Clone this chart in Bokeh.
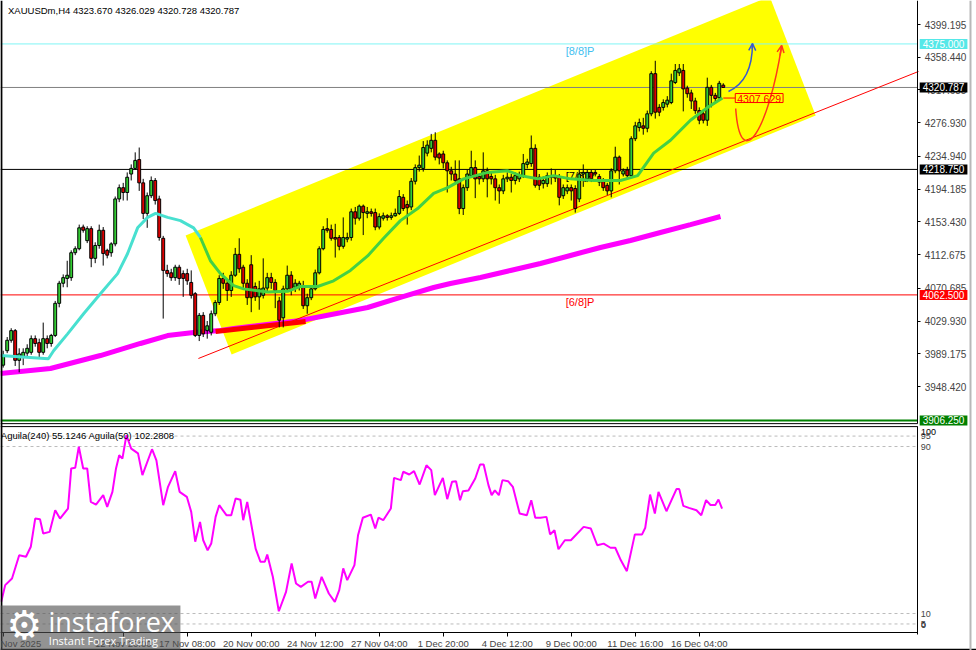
from bokeh.plotting import figure
from bokeh.models import (Range1d, FixedTicker, PrintfTickFormatter, Label, LinearAxis,
                          Arrow, OpenHead, ColumnDataSource)
from bokeh.embed import file_html
from bokeh.resources import INLINE
from bokeh.core.properties import value

FONT = "Liberation Sans"

# ---------------- data (XAUUSDm, H4) ----------------
opens = [3975, 3993, 4006, 4018, 3981, 3985, 3990, 3991, 4008, 4003,
         3991, 4008, 4002, 4012, 4052, 4077, 4083, 4084, 4115, 4120,
         4147, 4130, 4145, 4108, 4124, 4143, 4118, 4115, 4126, 4182,
         4196, 4190, 4213, 4220, 4231, 4202, 4164, 4186, 4205, 4182,
         4133, 4093, 4090, 4084, 4097, 4089, 4089, 4078, 4064, 4012,
         4037, 4018, 4016, 4039, 4053, 4083, 4077, 4068, 4087, 4113,
         4097, 4077, 4100, 4073, 4060, 4062, 4071, 4084, 4078, 4055,
         4034, 4070, 4087, 4072, 4072, 4074, 4049, 4059, 4070, 4090,
         4120, 4145, 4144, 4134, 4134, 4123, 4132, 4134, 4166, 4158,
         4173, 4164, 4166, 4165, 4147, 4158, 4161, 4159, 4161, 4164,
         4184, 4175, 4172, 4204, 4221, 4220, 4239, 4245, 4255, 4238,
         4238, 4227, 4217, 4213, 4207, 4170, 4196, 4211, 4221, 4210,
         4207, 4217, 4210, 4207, 4196, 4192, 4207, 4209, 4205, 4207,
         4211, 4225, 4226, 4245, 4209, 4201, 4201, 4209, 4211, 4209,
         4186, 4192, 4196, 4195, 4182, 4213, 4207, 4215, 4215, 4210,
         4205, 4199, 4192, 4217, 4234, 4213, 4218, 4211, 4257, 4271,
         4273, 4270, 4288, 4338, 4296, 4296, 4300, 4302, 4327, 4339,
         4342, 4320, 4314, 4304, 4292, 4288, 4280, 4321, 4311, 4308,
         4323.670]
highs = [3993, 4010, 4021, 4020, 3996, 3996, 4001, 4012, 4012, 4008,
         4028, 4012, 4014, 4055, 4080, 4088, 4105, 4118, 4123, 4150,
         4150, 4148, 4148, 4128, 4150, 4147, 4120, 4128, 4185, 4200,
         4202, 4215, 4225, 4240, 4246, 4207, 4190, 4210, 4208, 4186,
         4136, 4100, 4095, 4100, 4100, 4093, 4095, 4093, 4066, 4040,
         4041, 4030, 4043, 4056, 4087, 4090, 4080, 4092, 4121, 4133,
         4100, 4082, 4112, 4078, 4080, 4108, 4090, 4090, 4082, 4060,
         4074, 4099, 4092, 4082, 4080, 4080, 4064, 4073, 4094, 4123,
         4148, 4158, 4150, 4151, 4137, 4159, 4140, 4170, 4172, 4175,
         4175, 4172, 4170, 4170, 4164, 4165, 4163, 4165, 4170, 4193,
         4188, 4180, 4208, 4225, 4236, 4254, 4255, 4263, 4265, 4240,
         4242, 4230, 4222, 4230, 4230, 4200, 4218, 4242, 4230, 4213,
         4240, 4221, 4215, 4212, 4200, 4212, 4215, 4213, 4215, 4216,
         4238, 4232, 4261, 4250, 4213, 4210, 4215, 4220, 4218, 4213,
         4200, 4200, 4200, 4199, 4218, 4225, 4218, 4218, 4218, 4213,
         4208, 4202, 4220, 4247, 4236, 4220, 4222, 4260, 4278, 4282,
         4283, 4292, 4341, 4354, 4300, 4306, 4310, 4338, 4350, 4350,
         4350, 4323, 4318, 4308, 4296, 4293, 4333, 4324, 4314, 4329,
         4326.029]
lows = [3972, 3990, 4003, 3974, 3966, 3975, 3986, 3988, 3998, 3983,
        3988, 3996, 3998, 4010, 4047, 4072, 4072, 4080, 4112, 4118,
        4140, 4127, 4097, 4102, 4120, 4099, 4108, 4110, 4123, 4178,
        4180, 4180, 4205, 4218, 4192, 4157, 4146, 4183, 4175, 4130,
        4033, 4085, 4080, 4080, 4075, 4060, 4075, 4058, 4010, 4005,
        4010, 4008, 4012, 4036, 4050, 4070, 4055, 4060, 4085, 4090,
        4070, 4050, 4041, 4055, 4044, 4058, 4065, 4070, 4046, 4022,
        4022, 4066, 4062, 4066, 4068, 4045, 4039, 4056, 4068, 4088,
        4118, 4140, 4130, 4109, 4118, 4120, 4128, 4130, 4150, 4155,
        4137, 4158, 4160, 4143, 4144, 4155, 4155, 4156, 4160, 4162,
        4167, 4150, 4168, 4200, 4216, 4216, 4235, 4240, 4230, 4225,
        4220, 4190, 4205, 4200, 4163, 4162, 4192, 4208, 4183, 4200,
        4203, 4184, 4200, 4180, 4176, 4188, 4203, 4190, 4200, 4203,
        4208, 4220, 4222, 4196, 4193, 4195, 4197, 4200, 4203, 4174,
        4182, 4188, 4180, 4165, 4178, 4197, 4203, 4203, 4210, 4198,
        4192, 4187, 4184, 4214, 4200, 4210, 4206, 4208, 4254, 4266,
        4262, 4265, 4285, 4282, 4285, 4292, 4296, 4300, 4325, 4335,
        4291, 4308, 4294, 4288, 4275, 4276, 4273, 4296, 4303, 4304,
        4320.728]
closes = [3987, 4006, 4018, 3981, 3989, 3991, 3996, 4008, 4002, 3991,
          4008, 4002, 4012, 4052, 4077, 4084, 4087, 4115, 4120, 4146,
          4143, 4145, 4108, 4124, 4143, 4114, 4112, 4126, 4182, 4196,
          4190, 4209, 4220, 4230, 4202, 4164, 4186, 4205, 4180, 4134,
          4093, 4089, 4084, 4097, 4083, 4083, 4080, 4062, 4012, 4037,
          4014, 4024, 4039, 4053, 4083, 4077, 4068, 4087, 4113, 4095,
          4077, 4059, 4059, 4060, 4070, 4071, 4084, 4078, 4068, 4031,
          4070, 4087, 4068, 4077, 4077, 4049, 4059, 4070, 4090, 4120,
          4144, 4143, 4133, 4132, 4123, 4134, 4134, 4166, 4158, 4173,
          4165, 4166, 4164, 4147, 4160, 4161, 4159, 4161, 4164, 4185,
          4170, 4171, 4204, 4221, 4224, 4246, 4249, 4255, 4234, 4233,
          4227, 4217, 4213, 4205, 4170, 4196, 4213, 4221, 4207, 4207,
          4217, 4207, 4207, 4196, 4192, 4207, 4209, 4205, 4211, 4211,
          4226, 4228, 4245, 4199, 4199, 4205, 4211, 4211, 4208, 4184,
          4196, 4196, 4192, 4170, 4213, 4215, 4215, 4207, 4213, 4203,
          4196, 4192, 4217, 4234, 4217, 4217, 4211, 4257, 4273, 4277,
          4270, 4288, 4338, 4290, 4290, 4302, 4305, 4329, 4342, 4344,
          4319, 4313, 4304, 4292, 4280, 4280, 4321, 4311, 4307, 4326,
          4320.787]
bar_idx = list(range(len(opens)))

# slow moving average (magenta): bar index / price
ma_slow_idx = [-0.7, 11.8, 24.3, 34.3, 41.1, 47.6, 54.3, 57.6, 74.3, 91.1, 99.3,
               107.6, 111.8, 119.3, 126.8, 134.3, 141.8, 149.3, 156.8, 164.3,
               171.8, 179.3]
ma_slow_val = [3964.6, 3970.8, 3987.0, 4002.0, 4011.9, 4015.7, 4018.2, 4020.7,
               4030.6, 4046.8, 4059.3, 4071.7, 4076.7, 4084.2, 4092.9, 4101.6,
               4111.6, 4121.5, 4130.2, 4140.2, 4150.1, 4160.1]

# fast moving average (cyan -> green)
ma_fast_idx = [-0.7, 11.3, 12.6, 16.1, 20.1, 24.3, 28.6, 31.1, 33.6, 36.1, 38.1,
               41.1, 44.3, 47.6, 49.3, 51.8, 54.3, 57.6, 60.1, 66.1, 71.1, 74.3,
               78.6, 82.6, 86.8, 91.1, 95.1, 99.3, 103.6, 107.6, 111.1, 115.1,
               121.1, 126.1, 129.3, 133.6, 137.6, 141.8, 147.6, 154.3, 158.6,
               162.6, 166.8, 171.8, 176.1, 179.8]
ma_fast_val = [3987, 3983, 3993, 4014, 4039, 4064, 4089, 4114, 4146, 4159, 4164,
               4159, 4155, 4146, 4134, 4105, 4089, 4074, 4070, 4066, 4067, 4073,
               4073, 4080, 4093, 4111, 4133, 4155, 4170, 4189, 4196, 4207,
               4215, 4217, 4211, 4207, 4211, 4207, 4205, 4205, 4211,
               4239, 4255, 4280, 4296, 4307.629]
FAST_SPLIT = 49.3

# oscillator "Aguila" (lower panel)
ind_idx = [-0.5, 0.5, 2.2, 4, 5.7, 6.9, 8, 9.2, 10, 11.6,
           13, 14.2, 16.2, 17, 18, 18.9, 20, 21, 21.9, 23.2,
           25, 26, 27.3, 28.2, 29, 29.8, 30.8, 32, 33.7, 34.8,
           37.2, 38.3, 40, 41.2, 43, 44.1, 45.9, 47, 48, 49.2,
           50, 51.1, 52, 53.1, 54, 55.8, 57, 58.1, 59.3, 60,
           61, 63.1, 64.3, 65.4, 66, 67.4, 68.9, 70.7, 72.1, 73.2,
           74.4, 76.2, 77.1, 78, 79.6, 81.4, 82.9, 84, 85, 86,
           87.8, 88.7, 89.9, 91.9, 93, 93.8, 95, 96.9, 97.7, 99.4,
           100, 101.5, 102.7, 104.1, 105.8, 107, 107.9, 109.9, 111, 112.2,
           113.2, 114.2, 114.9, 116.3, 118, 119.2, 120.1, 121.3, 122.1, 122.9,
           123.9, 124.8, 126.2, 127.4, 129.1, 130.9, 132, 133, 134.3, 135.8,
           136.7, 137.8, 138.8, 140.4, 141.9, 145.1, 146.9, 148.5, 150.1, 151.8,
           153, 154.4, 155.9, 157.9, 159.7, 160.5, 161.7, 162.9, 163.8, 165.8,
           168.3, 169, 170, 171.4, 173.3, 174.5, 175.7, 176.8, 178, 178.8,
           179.7]
ind_val = [15.6, 23.6, 26.8, 37.9, 37.2, 42, 55.5, 55.2, 48.3, 49.1,
           59.5, 55.5, 60.3, 79.5, 79.8, 89.9, 79.5, 79.5, 63.5, 62.2,
           66.7, 61.1, 68.3, 79.5, 85.8, 84.2, 95.4, 89, 86.7, 76.3,
           88.7, 83.4, 61.9, 70.7, 78.2, 68.3, 65.9, 58.7, 44.4, 53.9,
           45.1, 40.3, 43.5, 56.3, 61.9, 57.1, 57.1, 65.1, 64.5, 54.7,
           63.5, 41.1, 34.8, 34.8, 38.3, 27.6, 11.1, 20.4, 34, 24.4,
           22.8, 25.2, 25.2, 17.2, 27.6, 19.6, 15.6, 21.2, 31.6, 26,
           33.2, 47.5, 55.9, 57.4, 50.7, 55.9, 54.7, 60.3, 75, 73.9,
           77.9, 76.6, 78.2, 71.8, 81, 78.7, 66.7, 75, 64.8, 73.1,
           73.4, 64.3, 68.6, 68.9, 74.7, 81.4, 81.4, 71.5, 66.7, 69,
           66.7, 73.9, 73.4, 70.7, 57.9, 57.1, 64.3, 55.9, 55.9, 56.3,
           47.9, 49.9, 40.8, 45.1, 45.1, 51.5, 50.7, 42.7, 43.5, 41.5,
           41.5, 35.5, 30.3, 47.9, 47.9, 51.1, 67, 57.9, 68.3, 59,
           69.6, 69.6, 61.6, 60.6, 59.5, 57.1, 64.3, 62, 62, 64.6,
           60.3]
ind_levels = [95, 90, 10, 5]

# horizontal levels (Murrey lines / bid)
levels = [4375.000, 4320.787, 4218.750, 4062.500, 3906.250]
level_colors = ["#7FF5F5", "#808080", "#000000", "#FF0000", "#008000"]
tag_colors = ["#55E8E8", "#000000", "#000000", "#FF0000", "#008000"]
murrey_text = ["[8/8]P", "[7/8]P", "[6/8]P"]
murrey_price = [4375.000, 4218.750, 4062.500]
murrey_colors = ["#3FC0F0", "#000000", "#FF0000"]

# channel and trend lines
channel_idx = [45.6, 57.1, 203.1, 191.6]
channel_price = [4136.5, 3988.3, 4285.9, 4434.1]
trend_idx = [48.8, 228.8]
trend_price = [3983.3, 4340.7]
thick_idx = [53.1, 75.6]
thick_price = [4016.9, 4029.4]

ma_label_price = 4307.629

price_ticks = [3948.420, 3989.175, 4029.930, 4070.685, 4112.675, 4153.430,
               4194.185, 4234.940, 4276.930, 4317.685, 4358.440, 4399.195]
tick_idx = [0, 30, 46, 62, 78, 94, 110, 126, 142, 158, 174]
tick_text = ["Nov 2025", "12 Nov 20:00", "17 Nov 08:00", "20 Nov 00:00",
             "24 Nov 12:00", "27 Nov 04:00", "1 Dec 20:00", "4 Dec 12:00",
             "9 Dec 00:00", "11 Dec 16:00", "16 Dec 04:00"]

# ---------------- layout constants ----------------
X_LEFT, X_AXIS, X_RIGHT = -0.675, 228.6, 243.3      # bar-index units
P_TOP, P_BOTTOM = 4429.08, 3619.7                   # price units over whole canvas
MAIN_BOTTOM = 3902.2                                 # bottom of price panel
OSC_TOP_LINE = 3898.5                                # top border of oscillator panel
XAXIS_AT = 3642.1                                    # time axis line
OSC_RANGE = (-7.71, 303.66)                          # oscillator units over whole canvas

p = figure(width=976, height=650, x_range=Range1d(X_LEFT, X_RIGHT),
           y_range=Range1d(P_BOTTOM, P_TOP), output_backend="svg",
           toolbar_location=None, x_axis_location=None, y_axis_location=None,
           min_border=0)
p.extra_y_ranges = {"osc": Range1d(*OSC_RANGE)}
p.outline_line_color = None
p.grid.visible = False
p.background_fill_color = "white"
p.border_fill_color = "white"

# ---- price panel ----
p.patch(channel_idx, channel_price, fill_color="#FFFF00", line_color=None)

for lv, lc in zip(levels, level_colors):
    p.segment(x0=[X_LEFT], y0=[lv], x1=[X_AXIS], y1=[lv], line_color=lc,
              line_width=2 if lc == "#008000" else 1)

p.text(x=[140.6] * 3, y=murrey_price, text=murrey_text, text_color=murrey_colors,
       text_font=value(FONT), text_font_size="11px", text_baseline="top", y_offset=1)

p.line(ma_slow_idx, ma_slow_val, line_color="#FF00FF", line_width=5)
p.line(trend_idx, trend_price, line_color="#FF0000", line_width=1)
p.line(thick_idx, thick_price, line_color="#FF0000", line_width=5)

src = ColumnDataSource(dict(
    x=bar_idx, high=highs, low=lows,
    top=[max(o, c) for o, c in zip(opens, closes)],
    bottom=[min(o, c) for o, c in zip(opens, closes)],
    color=["#33CC33" if c >= o else "#DD0000" for o, c in zip(opens, closes)]))
p.segment(x0="x", y0="low", x1="x", y1="high", source=src, line_color="black", line_width=1)
p.vbar(x="x", top="top", bottom="bottom", width=0.72, source=src,
       fill_color="color", line_color="black", line_width=1)

cy_i = [i for i in ma_fast_idx if i <= FAST_SPLIT]
cy_v = [v for i, v in zip(ma_fast_idx, ma_fast_val) if i <= FAST_SPLIT]
gr_i = [i for i in ma_fast_idx if i >= FAST_SPLIT]
gr_v = [v for i, v in zip(ma_fast_idx, ma_fast_val) if i >= FAST_SPLIT]
p.line(cy_i, cy_v, line_color="#48E0D0", line_width=3)
p.line(gr_i, gr_v, line_color="#44D044", line_width=3)

# forecast arrows
p.quadratic(x0=[181.3], y0=[4315.8], x1=[187.3], y1=[4375.5], cx=[187.3], cy=[4329.5],
            line_color="#3858D0", line_width=1.5)
p.add_layout(Arrow(end=OpenHead(size=7, line_color="#3858D0", line_width=1.5),
                   x_start=187.25, y_start=4369.0, x_end=187.3, y_end=4375.5,
                   line_color="#3858D0", line_width=1.5))
p.bezier(x0=[183.1], y0=[4294.6], x1=[194.6], y1=[4373.0], cx0=[184.3], cy0=[4211.2],
         cx1=[191.3], cy1=[4267.2], line_color="#FF3A1A", line_width=1.5)
p.add_layout(Arrow(end=OpenHead(size=7, line_color="#FF3A1A", line_width=1.5),
                   x_start=194.2, y_start=4360.6, x_end=194.6, y_end=4373.0,
                   line_color="#FF3A1A", line_width=1.5))

p.line([180.0, 183.0], [ma_label_price, ma_label_price], line_color="#FF0000", line_width=1)
p.add_layout(Label(x=183.0, y=ma_label_price, text=f"{ma_label_price:.3f}",
                   text_font=FONT, text_font_size="10.5px", text_color="#FF0000",
                   text_baseline="middle", text_align="left",
                   border_line_color="#FF0000", border_line_width=1,
                   padding={"left": 2, "right": 2, "top": 1, "bottom": 0}))

p.add_layout(Label(x=1.2, y=4416.8, text="XAUUSDm,H4  4323.670 4326.029 4320.728 4320.787",
                   text_font=FONT, text_font_size="9.5px", text_color="black",
                   text_baseline="middle", text_align="left"))

# ---- oscillator panel ----
for lv in ind_levels:
    p.segment(x0=[X_LEFT], y0=[lv], x1=[X_AXIS], y1=[lv], y_range_name="osc",
              line_color="#BBBBBB", line_width=1, line_dash="3 3")
p.line(ind_idx, ind_val, y_range_name="osc", line_color="#FF00FF", line_width=2)
p.text(x=[-0.6], y=[95.3], text=["Aguila(240) 55.1246  Aguila(50) 102.2808"],
       y_range_name="osc", text_font=value(FONT), text_font_size="9.5px",
       text_baseline="middle", text_align="left", text_color="black")

# ---- frame lines ----
p.segment(x0=[X_LEFT, X_LEFT], y0=[MAIN_BOTTOM, OSC_TOP_LINE],
          x1=[X_AXIS, X_AXIS], y1=[MAIN_BOTTOM, OSC_TOP_LINE],
          line_color="black", line_width=1)
p.segment(x0=[-0.45], y0=[P_BOTTOM], x1=[-0.45], y1=[P_TOP], line_color="black", line_width=2)
p.segment(x0=[X_LEFT], y0=[3620.6], x1=[X_RIGHT], y1=[3620.6], line_color="black", line_width=2)
p.segment(x0=[241.8], y0=[P_BOTTOM], x1=[241.8], y1=[P_TOP], line_color="#B8B8B8", line_width=2)

# ---- axes (drawn at fixed locations inside the canvas) ----
ax = LinearAxis(fixed_location=X_AXIS, ticker=FixedTicker(ticks=price_ticks),
                formatter=PrintfTickFormatter(format="%.3f"), bounds=(MAIN_BOTTOM, P_TOP))
ax.major_label_text_font = FONT
ax.major_label_text_font_size = "10px"
ax.major_tick_out = 3
ax.major_tick_in = 0
ax.minor_tick_out = 0
ax.minor_tick_in = 0
ax.major_label_standoff = 4
ax.axis_line_color = "black"
p.add_layout(ax, "right")

ay = LinearAxis(y_range_name="osc", fixed_location=X_AXIS,
                ticker=FixedTicker(ticks=ind_levels), bounds=(0.0, 99.6))
ay.major_label_text_font = FONT
ay.major_label_text_font_size = "9px"
ay.major_tick_out = 0
ay.major_tick_in = 0
ay.minor_tick_out = 0
ay.minor_tick_in = 0
ay.major_label_standoff = 3
ay.axis_line_color = "black"
p.add_layout(ay, "right")
p.text(x=[229.4, 229.4], y=[96.9, 4.3], text=["100", "0"], y_range_name="osc",
       text_font=value(FONT), text_font_size="9px", text_baseline="middle",
       text_align="left", text_color="black")

axx = LinearAxis(fixed_location=XAXIS_AT, ticker=FixedTicker(ticks=tick_idx),
                 bounds=(X_LEFT, X_AXIS))
axx.major_label_overrides = {t: s for t, s in zip(tick_idx, tick_text)}
axx.major_label_text_align = "left"
axx.major_label_text_font = FONT
axx.major_label_text_font_size = "9.5px"
axx.major_tick_out = 4
axx.major_tick_in = 0
axx.minor_tick_out = 0
axx.minor_tick_in = 0
axx.major_label_standoff = 1
axx.axis_line_color = "black"
p.add_layout(axx, "below")

# price tags on the axis
for lv, tc in zip(levels, tag_colors):
    p.add_layout(Label(x=229.1, y=lv, text=f"{lv:.3f}", text_font=FONT,
                       text_font_size="10px", text_color="white",
                       text_baseline="middle", text_align="left",
                       background_fill_color=tc,
                       padding={"left": 3, "right": 3, "top": 1, "bottom": 1}))

# ---- watermark ----
wm = p.quad(left=[X_LEFT], right=[44.3], top=[3675.7], bottom=[P_BOTTOM],
            fill_color="#505050", fill_alpha=0.62, line_color=None)
wm.level = "overlay"
for txt, xx, yy, fnt, fs, al in (
        ("\u2699", 5.3, 3651.5, "DejaVu Sans", "40px", "center"),
        ("instaforex", 11.3, 3656.0, "Open Sans", "27px", "left"),
        ("Instant Forex Trading", 11.4, 3632.5, "Open Sans", "11px", "left")):
    p.add_layout(Label(x=xx, y=yy, text=txt, text_font=fnt, text_font_size=fs,
                       text_color="white", text_align=al, text_baseline="middle",
                       level="overlay"))

open("out.html", "w").write(file_html(p, INLINE))
